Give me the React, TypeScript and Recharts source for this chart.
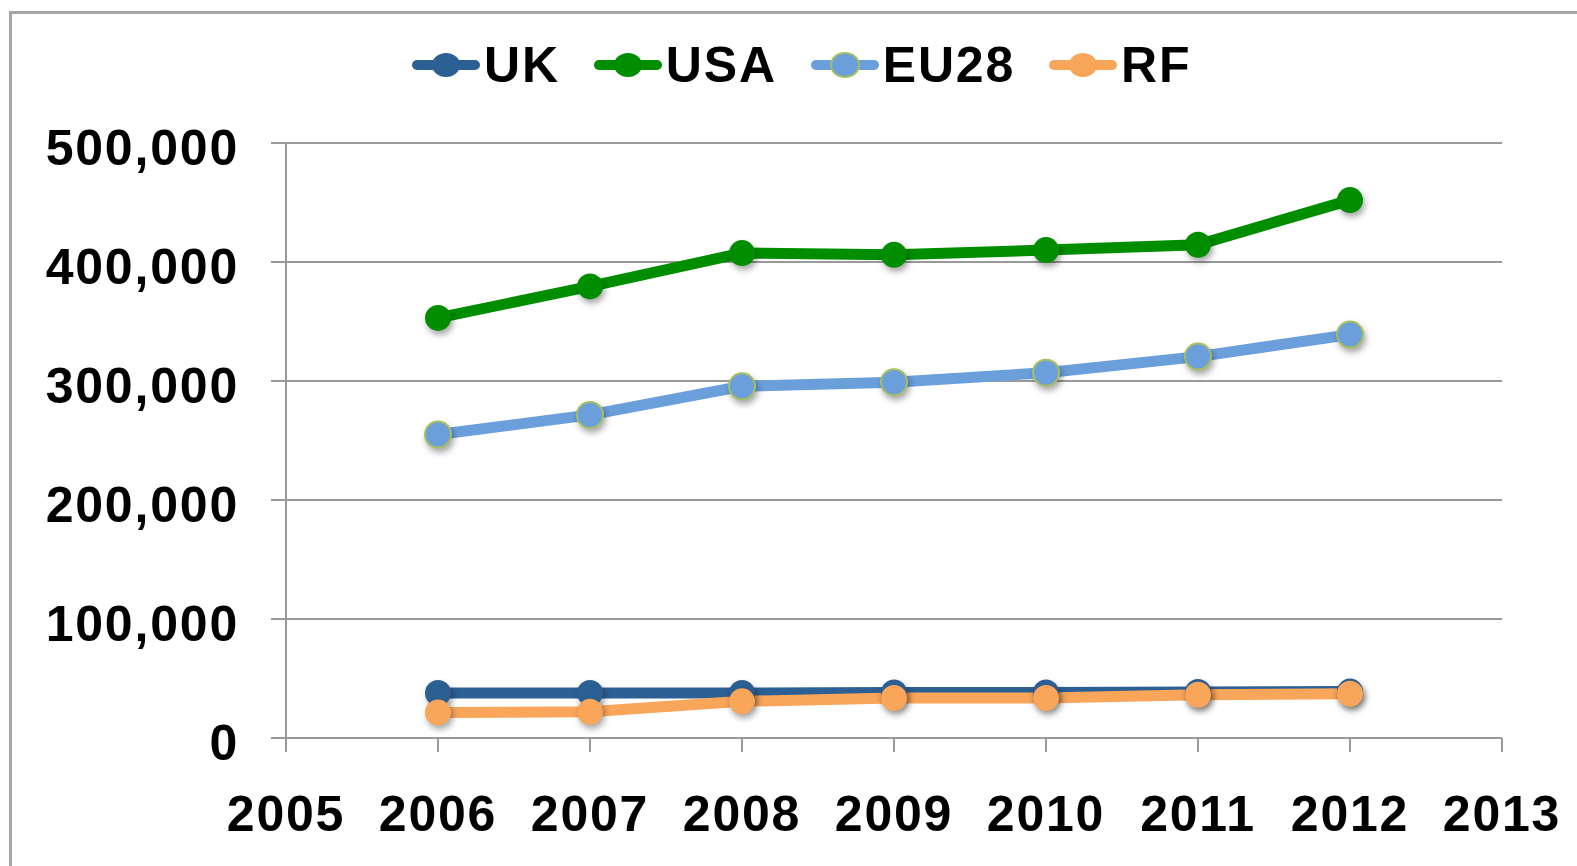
import { LineChart, Line, XAxis, YAxis, CartesianGrid } from "recharts"

const years = [2006, 2007, 2008, 2009, 2010, 2011, 2012]
const ukValues = [37800, 37800, 37800, 38200, 38200, 38600, 39000]
const usaValues = [353000, 379500, 407500, 406000, 410000, 414500, 452000]
const eu28Values = [255000, 271500, 295500, 299000, 307000, 320500, 339000]
const rfValues = [21500, 22000, 30800, 33600, 33600, 36400, 37200]
const xTicks = [2005, 2006, 2007, 2008, 2009, 2010, 2011, 2012, 2013]
const yTicks = [0, 100000, 200000, 300000, 400000, 500000]

const series = [
  { key: "uk", name: "UK", color: "#2C5F93", dotStroke: "none" },
  { key: "usa", name: "USA", color: "#008E00", dotStroke: "none" },
  { key: "eu28", name: "EU28", color: "#6A9FDB", dotStroke: "#A4BF62" },
  { key: "rf", name: "RF", color: "#F9A55A", dotStroke: "none" },
]

const data = years.map((year, i) => ({
  year,
  uk: ukValues[i],
  usa: usaValues[i],
  eu28: eu28Values[i],
  rf: rfValues[i],
}))

const FONT = '"Liberation Sans", Arial, sans-serif'
const GRID = "#999999"

function makeDot(color: string, stroke: string) {
  return (props: any) => {
    const { cx, cy, index } = props
    if (cx == null || cy == null) return <g key={index} />
    return (
      <circle
        key={index}
        cx={cx}
        cy={cy}
        r={13}
        fill={color}
        stroke={stroke}
        strokeWidth={stroke === "none" ? 0 : 2}
        style={{ filter: "drop-shadow(2px 4px 3px rgba(0,0,0,0.35))" }}
      />
    )
  }
}

function XTick(props: any) {
  const { x, y, payload } = props
  return (
    <text x={x} y={y} dy={71} textAnchor="middle" fontFamily={FONT} fontWeight="bold" fontSize={50} letterSpacing={1.8} fill="#000">
      {payload.value}
    </text>
  )
}

function YTick(props: any) {
  const { x, y, payload } = props
  return (
    <text x={x} y={y} dy={22} textAnchor="end" fontFamily={FONT} fontWeight="bold" fontSize={50} letterSpacing={1.8} fill="#000">
      {Number(payload.value).toLocaleString("en-US")}
    </text>
  )
}

function ChartLegend() {
  return (
    <div
      style={{
        position: "absolute",
        left: 412,
        top: 38,
        display: "flex",
        alignItems: "center",
        fontFamily: FONT,
        fontWeight: "bold",
        fontSize: 50,
        letterSpacing: 1.8,
        lineHeight: "54px",
      }}
    >
      {series.map((s) => (
        <div key={s.key} style={{ display: "flex", alignItems: "center", marginRight: 34 }}>
          <svg width={68} height={30} style={{ overflow: "visible" }}>
            <line x1={5} y1={15} x2={63} y2={15} stroke={s.color} strokeWidth={10} strokeLinecap="round" />
            <ellipse
              cx={34}
              cy={15}
              rx={14}
              ry={12}
              fill={s.color}
              stroke={s.dotStroke}
              strokeWidth={s.dotStroke === "none" ? 0 : 2}
            />
          </svg>
          <span style={{ marginLeft: 4 }}>{s.name}</span>
        </div>
      ))}
    </div>
  )
}

export default function App() {
  return (
    <div
      style={{
        position: "absolute",
        left: 0,
        top: 0,
        width: 1577,
        height: 866,
        overflow: "hidden",
        background: "#fff",
      }}
    >
      <div
        style={{
          position: "absolute",
          left: 9,
          top: 11,
          width: 1700,
          height: 1000,
          borderLeft: "3px solid #A6A6A6",
          borderTop: "3px solid #A6A6A6",
        }}
      />
      <ChartLegend />
      <div style={{ position: "absolute", left: 0, top: 0 }}>
        <LineChart width={1577} height={866} data={data} margin={{ top: 143, right: 75, bottom: 28, left: 46 }}>
          <CartesianGrid vertical={false} stroke={GRID} strokeWidth={2} />
          <XAxis
            dataKey="year"
            type="number"
            domain={[2005, 2013]}
            ticks={xTicks}
            interval={0}
            height={100}
            tickSize={14}
            tickMargin={8}
            axisLine={{ stroke: GRID, strokeWidth: 2 }}
            tickLine={{ stroke: GRID, strokeWidth: 2 }}
            tick={<XTick />}
          />
          <YAxis
            type="number"
            domain={[0, 500000]}
            ticks={yTicks}
            interval={0}
            width={240}
            tickSize={15}
            tickMargin={32}
            axisLine={{ stroke: GRID, strokeWidth: 2 }}
            tickLine={{ stroke: GRID, strokeWidth: 2 }}
            tick={<YTick />}
          />
          {series.map((s) => (
            <Line
              key={s.key}
              type="linear"
              dataKey={s.key}
              name={s.name}
              stroke={s.color}
              strokeWidth={11}
              dot={makeDot(s.color, s.dotStroke)}
              activeDot={false}
              isAnimationActive={false}
            />
          ))}
        </LineChart>
      </div>
    </div>
  )
}
